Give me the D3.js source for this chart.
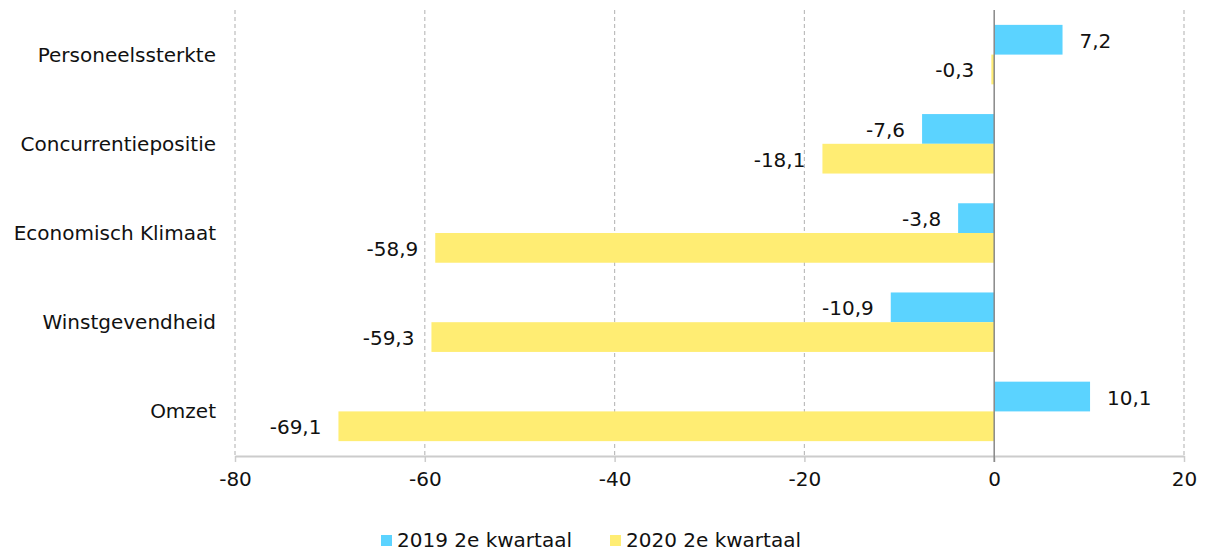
<!DOCTYPE html>
<html lang="nl">
<head>
<meta charset="utf-8">
<style>
body { margin: 0; background: #fff; }
text { font-family: "DejaVu Sans", sans-serif; fill: #111; }
</style>
</head>
<body>
<svg width="1206" height="552"></svg>
<script src="https://cdn.jsdelivr.net/npm/d3@7/dist/d3.min.js"></script>
<script>
var categories = ["Personeelssterkte", "Concurrentiepositie", "Economisch Klimaat", "Winstgevendheid", "Omzet"];
var seriesNames = ["2019 2e kwartaal", "2020 2e kwartaal"];
var values2019 = [7.2, -7.6, -3.8, -10.9, 10.1];
var values2020 = [-0.3, -18.1, -58.9, -59.3, -69.1];
var xTicks = [-80, -60, -40, -20, 0, 20];
var colors = ["#5bd3ff", "#ffed73"];

var svg = d3.select("svg");
var plotLeft = 235, plotRight = 1184, plotTop = 10, plotBottom = 456;

var x = d3.scaleLinear().domain([-80, 20]).range([plotLeft, plotRight]);
var y = d3.scaleBand().domain(categories).range([plotTop, plotBottom]);
var ys = d3.scaleBand().domain(seriesNames).range([0, y.bandwidth()]).paddingOuter(0.5);

var fmt = function (v) { return d3.format(".1f")(v).replace(".", ",").replace("\u2212", "-"); };

// gridlines
svg.append("g").selectAll("line")
    .data(xTicks.filter(function (t) { return t !== 0; }))
    .join("line")
    .attr("x1", function (d) { return x(d); })
    .attr("x2", function (d) { return x(d); })
    .attr("y1", plotTop)
    .attr("y2", plotBottom)
    .attr("stroke", "#bdbdbd")
    .attr("stroke-width", 1.2)
    .attr("stroke-dasharray", "4,3");

// x axis
var xAxis = svg.append("g")
    .attr("transform", "translate(0," + plotBottom + ")")
    .call(d3.axisBottom(x).tickValues(xTicks).tickFormat(function (d) { return String(d); })
        .tickSize(6).tickPadding(10).tickSizeOuter(0));
xAxis.select(".domain").attr("stroke", "#ccc").attr("stroke-width", 2);
xAxis.selectAll(".tick line").attr("stroke", "#ccc").attr("stroke-width", 1.5);
xAxis.selectAll(".tick text").attr("font-size", 20).attr("font-family", "DejaVu Sans").attr("fill", "#111");

// bars
var flat = [];
categories.forEach(function (c, i) {
    flat.push({ cat: c, s: seriesNames[0], v: values2019[i], color: colors[0] });
    flat.push({ cat: c, s: seriesNames[1], v: values2020[i], color: colors[1] });
});

svg.append("g").selectAll("rect")
    .data(flat)
    .join("rect")
    .attr("x", function (d) { return x(Math.min(0, d.v)); })
    .attr("width", function (d) { return Math.abs(x(d.v) - x(0)); })
    .attr("y", function (d) { return y(d.cat) + ys(d.s); })
    .attr("height", ys.bandwidth())
    .attr("fill", function (d) { return d.color; });

// zero line
svg.append("line")
    .attr("x1", x(0)).attr("x2", x(0))
    .attr("y1", plotTop).attr("y2", plotBottom + 6)
    .attr("stroke", "#888")
    .attr("stroke-width", 1.5);

// value labels
svg.append("g").selectAll("text")
    .data(flat)
    .join("text")
    .attr("x", function (d) { return d.v >= 0 ? x(d.v) + 17 : x(d.v) - 17; })
    .attr("y", function (d) { return y(d.cat) + ys(d.s) + ys.bandwidth() / 2 + 1; })
    .attr("dy", "0.35em")
    .attr("text-anchor", function (d) { return d.v >= 0 ? "start" : "end"; })
    .attr("font-size", 20)
    .text(function (d) { return fmt(d.v); });

// category labels
svg.append("g").selectAll("text")
    .data(categories)
    .join("text")
    .attr("x", plotLeft - 19)
    .attr("y", function (d) { return y(d) + y.bandwidth() / 2; })
    .attr("dy", "0.35em")
    .attr("text-anchor", "end")
    .attr("font-size", 20)
    .text(function (d) { return d; });

// legend
var legendX = [381, 610];
var legend = svg.append("g").selectAll("g")
    .data(seriesNames)
    .join("g")
    .attr("transform", function (d, i) { return "translate(" + legendX[i] + ",540)"; });
legend.append("rect")
    .attr("x", 0).attr("y", -5)
    .attr("width", 11).attr("height", 11)
    .attr("fill", function (d, i) { return colors[i]; });
legend.append("text")
    .attr("x", 16)
    .attr("y", 0)
    .attr("dy", "0.35em")
    .attr("font-size", 20)
    .text(function (d) { return d; });
</script>
</body>
</html>
